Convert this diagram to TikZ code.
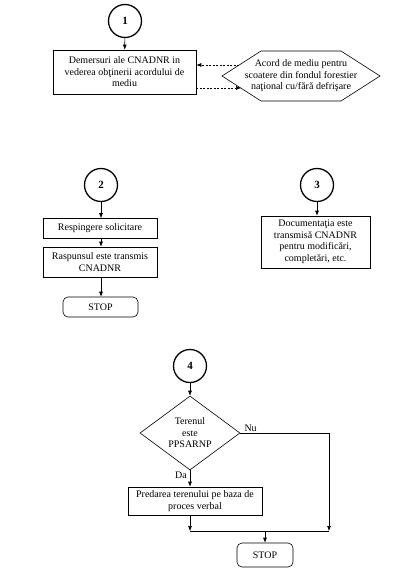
\documentclass[tikz,border=0pt]{standalone}
\usepackage{fontspec}
\setmainfont{Liberation Serif}
\usetikzlibrary{arrows.meta,shapes.geometric}
\begin{document}
\begin{tikzpicture}[x=1pt,y=-1pt,
  every node/.style={font=\fontsize{10}{11.5}\selectfont},
  conn/.style={draw, circle, line width=1.3pt, minimum size=33pt, inner sep=0pt, font=\fontsize{11}{12}\selectfont\bfseries},
  proc/.style={draw, line width=0.6pt, align=center, inner sep=0pt},
  term/.style={draw, rounded corners=5pt, line width=0.6pt, inner sep=0pt},
  dec/.style={draw, diamond, line width=0.6pt, align=center, inner sep=0pt, aspect=1.35, minimum width=100pt, minimum height=74pt},
  lbl/.style={inner sep=1pt},
  ln/.style={line width=0.6pt},
  arr/.style={ln, -{Latex[length=5pt,width=4pt]}},
  darr/.style={arr, dash pattern=on 2pt off 1.5pt}
]
\useasboundingbox (0,0) rectangle (403,573);

% ---- part 1
\node[conn] (c1) at (125,21) {1};
\node[proc, minimum width=143pt, minimum height=44pt] (b1) at (124.5,72)
  {Demersuri ale CNADNR in\\vederea obţinerii acordului de\\mediu};
\draw[arr] (c1) -- (b1);
\node[align=center, inner sep=0pt] (hx) at (301,76)
  {Acord de mediu pentru\\scoatere din fondul forestier\\naţional cu/fără defrişare};
\draw[ln] (222,76) -- (261,51) -- (341,51) -- (380,76) -- (341,101) -- (261,101) -- cycle;
\coordinate (hu) at (239,65);
\coordinate (hl) at (241,88);
\draw[darr] (hu) -- (b1.east |- hu);
\draw[darr] (b1.east |- hl) -- (hl);

% ---- part 2
\node[conn] (c2) at (101,185) {2};
\node[proc, minimum width=114pt, minimum height=20pt] (b2a) at (100,228.5) {Respingere solicitare};
\node[proc, minimum width=114pt, minimum height=30pt] (b2b) at (100,262) {Raspunsul este transmis\\CNADNR};
\node[term, minimum width=75pt, minimum height=20pt] (s2) at (100.5,307) {STOP};
\draw[arr] (c2) -- (c2 |- b2a.north);
\draw[arr] (c2 |- b2a.south) -- (c2 |- b2b.north);
\draw[arr] (c2 |- b2b.south) -- (c2 |- s2.north);

% ---- part 3
\node[conn] (c3) at (317,185) {3};
\node[proc, minimum width=109pt, minimum height=52pt] (b3) at (315.5,242)
  {Documentaţia este\\transmisă CNADNR\\pentru modificări,\\completări, etc.};
\draw[arr] (c3) -- (c3 |- b3.north);

% ---- part 4
\node[conn] (c4) at (190,366) {4};
\node[dec] (d) at (190,433) {Terenul\\este\\PPSARNP};
\draw[arr] (c4) -- (d.north);
\node[proc, minimum width=134pt, minimum height=28pt] (b4) at (195,501)
  {Predarea terenului pe baza de\\proces verbal};
\draw[arr] (d.south) -- (d.south |- b4.north);
\node[lbl, anchor=north east] (da) at ([xshift=-2pt]d.south) {Da};
\node[lbl, anchor=south west] (nu) at ([xshift=3pt]d.east) {Nu};
\coordinate (ml) at (190,531);
\coordinate (mr) at (329,531);
\coordinate (mc) at (265,531);
\node[term, minimum width=56pt, minimum height=24pt] (s4) at (265,555) {STOP};
\draw[arr] (d.east) -| (mr);
\draw[arr] (d.south |- b4.south) -- (ml);
\draw[ln] (ml) -- (mr);
\draw[arr] (mc) -- (s4);
\end{tikzpicture}
\end{document}
